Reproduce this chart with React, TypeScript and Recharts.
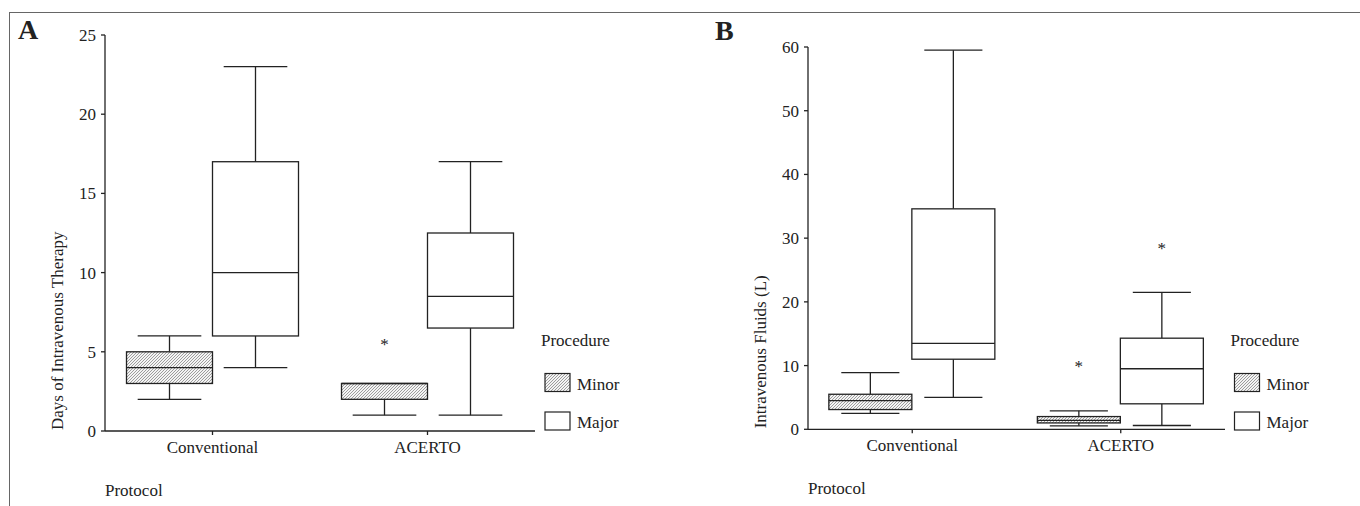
import React from "react";
import { Bar, ComposedChart, Label, Legend, XAxis, YAxis } from "recharts";

// five-number summaries per protocol: [min, q1, median, q3, max]
const protocols = ["Conventional", "ACERTO"];

const daysMinor = [
  [2, 3, 4, 5, 6],
  [1, 2, 3, 3, 3],
];
const daysMinorOutliers = [[], [5.6]];
const daysMajor = [
  [4, 6, 10, 17, 23],
  [1, 6.5, 8.5, 12.5, 17],
];
const daysMajorOutliers = [[], []];
const daysTicks = [0, 5, 10, 15, 20, 25];

const fluidsMinor = [
  [2.5, 3.1, 4.5, 5.5, 8.9],
  [0.55, 1, 1.4, 2, 2.9],
];
const fluidsMinorOutliers = [[], [10.3]];
const fluidsMajor = [
  [5, 11, 13.5, 34.6, 59.5],
  [0.6, 4, 9.5, 14.3, 21.5],
];
const fluidsMajorOutliers = [[], [28.7]];
const fluidsTicks = [0, 10, 20, 30, 40, 50, 60];

const FONT = '"Liberation Serif", "Times New Roman", serif';
const INK = "#222";

interface BoxStats {
  min: number;
  q1: number;
  median: number;
  q3: number;
  max: number;
  outliers: number[];
}

interface Row {
  protocol: string;
  minor: BoxStats;
  major: BoxStats;
}

function toStats(v: number[], outliers: number[]): BoxStats {
  return { min: v[0], q1: v[1], median: v[2], q3: v[3], max: v[4], outliers };
}

function buildRows(minor: number[][], minorOut: number[][], major: number[][], majorOut: number[][]): Row[] {
  return protocols.map((protocol, i) => ({
    protocol,
    minor: toStats(minor[i], minorOut[i]),
    major: toStats(major[i], majorOut[i]),
  }));
}

const daysRows = buildRows(daysMinor, daysMinorOutliers, daysMajor, daysMajorOutliers);
const fluidsRows = buildRows(fluidsMinor, fluidsMinorOutliers, fluidsMajor, fluidsMajorOutliers);

// the bar spans [min, max]; the rest of the box is placed on the same scale
function boxShape(key: "minor" | "major", capRatio: number) {
  return (props: any) => {
    const { x, y, width, height, payload } = props;
    const s: BoxStats = payload[key];
    const top = Math.min(y, y + height);
    const k = Math.abs(height) / (s.max - s.min);
    const py = (v: number) => top + (s.max - v) * k;
    const cx = x + width / 2;
    const half = (width * capRatio) / 2;
    const fill = key === "minor" ? "url(#hatch)" : "#fff";
    return (
      <g stroke={INK} strokeWidth={1.3}>
        <line x1={cx} x2={cx} y1={py(s.max)} y2={py(s.q3)} />
        <line x1={cx} x2={cx} y1={py(s.q1)} y2={py(s.min)} />
        {s.max > s.q3 && <line x1={cx - half} x2={cx + half} y1={py(s.max)} y2={py(s.max)} />}
        <line x1={cx - half} x2={cx + half} y1={py(s.min)} y2={py(s.min)} />
        <rect x={x} y={py(s.q3)} width={width} height={py(s.q1) - py(s.q3)} fill={fill} />
        <line x1={x} x2={x + width} y1={py(s.median)} y2={py(s.median)} />
        {s.outliers.map((o, i) => (
          <text key={i} x={cx} y={py(o) + 8} textAnchor="middle" stroke="none" fill={INK} fontSize={17}>
            *
          </text>
        ))}
      </g>
    );
  };
}

function ProcedureLegend({ dx, dy }: { dx: number; dy: number }) {
  return (
    <svg width={130} height={120} style={{ fontFamily: FONT, overflow: "visible" }}>
      <text x={dx} y={26 + dy} fontSize={17} fill={INK}>
        Procedure
      </text>
      <rect x={dx + 4} y={53.5 + dy} width={25} height={18} fill="url(#hatch)" stroke={INK} strokeWidth={1.2} />
      <text x={dx + 36} y={70 + dy} fontSize={17} fill={INK}>
        Minor
      </text>
      <rect x={dx + 4} y={92 + dy} width={25} height={18} fill="#fff" stroke={INK} strokeWidth={1.2} />
      <text x={dx + 36} y={108 + dy} fontSize={17} fill={INK}>
        Major
      </text>
    </svg>
  );
}

interface PanelProps {
  rows: Row[];
  ticks: number[];
  yLabel: string;
  left: number;
  width: number;
  margin: { top: number; right: number; bottom: number; left: number };
  capRatio: number;
  legendLeft: number;
  legendDx: number;
}

function Panel(p: PanelProps) {
  const axisStyle = { fill: INK, fontSize: 17, fontFamily: FONT };
  return (
    <div style={{ position: "absolute", left: p.left, top: 0 }}>
      <ComposedChart
        width={p.width}
        height={506}
        data={p.rows}
        margin={p.margin}
        barCategoryGap="10%"
        barGap={0}
      >
        <XAxis
          dataKey="protocol"
          tick={axisStyle}
          tickSize={4}
          tickMargin={6}
          height={30}
          stroke={INK}
          strokeWidth={1.3}
          interval={0}
        >
          <Label
            content={(props: any) => {
              const vb = props.viewBox;
              return (
                <text x={vb.x} y={vb.y + 65} fontSize={17} fill={INK} fontFamily={FONT}>
                  Protocol
                </text>
              );
            }}
          />
        </XAxis>
        <YAxis
          type="number"
          domain={[p.ticks[0], p.ticks[p.ticks.length - 1]]}
          ticks={p.ticks}
          tick={axisStyle}
          tickSize={4}
          tickMargin={5}
          width={60}
          stroke={INK}
          strokeWidth={1.3}
          interval={0}
        >
          <Label
            content={(props: any) => {
              const vb = props.viewBox;
              const lx = vb.x + vb.width - 42;
              const ly = vb.y + vb.height - 1;
              return (
                <text
                  x={lx}
                  y={ly}
                  transform={`rotate(-90, ${lx}, ${ly})`}
                  fontSize={17}
                  fill={INK}
                  fontFamily={FONT}
                  textAnchor="start"
                >
                  {p.yLabel}
                </text>
              );
            }}
          />
        </YAxis>
        <Legend
          layout="vertical"
          align="center"
          verticalAlign="middle"
          wrapperStyle={{ left: p.legendLeft, top: 320, width: 130, height: 120 }}
          content={() => <ProcedureLegend dx={p.legendDx} dy={0} />}
        />
        <Bar
          dataKey={(d: Row) => [d.minor.min, d.minor.max]}
          name="Minor"
          shape={boxShape("minor", p.capRatio)}
          isAnimationActive={false}
        />
        <Bar
          dataKey={(d: Row) => [d.major.min, d.major.max]}
          name="Major"
          shape={boxShape("major", p.capRatio)}
          isAnimationActive={false}
        />
      </ComposedChart>
    </div>
  );
}

export default function App() {
  return (
    <div
      style={{
        position: "absolute",
        left: 0,
        top: 0,
        width: 1360,
        height: 506,
        background: "#fff",
        overflow: "hidden",
        fontFamily: FONT,
        color: INK,
      }}
    >
      <svg width={0} height={0} style={{ position: "absolute" }}>
        <defs>
          <pattern id="hatch" width={3} height={3} patternUnits="userSpaceOnUse">
            <rect width={3} height={3} fill="#f4f4f4" />
            <path d="M-1,1 l2,-2 M0,3 l3,-3 M2,4 l2,-2" stroke="#777" strokeWidth={0.7} />
          </pattern>
        </defs>
      </svg>
      <div
        style={{
          position: "absolute",
          left: 9,
          top: 12,
          width: 1400,
          height: 600,
          borderTop: "1.5px solid #666",
          borderLeft: "1.5px solid #666",
        }}
      />
      <Panel
        rows={daysRows}
        ticks={daysTicks}
        yLabel="Days of Intravenous Therapy"
        left={0}
        width={700}
        margin={{ top: 35, right: 165, bottom: 45, left: 45 }}
        capRatio={0.74}
        legendLeft={535}
        legendDx={6}
      />
      <Panel
        rows={fluidsRows}
        ticks={fluidsTicks}
        yLabel="Intravenous Fluids (L)"
        left={680}
        width={680}
        margin={{ top: 47, right: 135, bottom: 46.7, left: 68 }}
        capRatio={0.7}
        legendLeft={545}
        legendDx={5.5}
      />
      <div style={{ position: "absolute", left: 18, top: 14, fontSize: 28, fontWeight: "bold" }}>A</div>
      <div style={{ position: "absolute", left: 715, top: 15, fontSize: 28, fontWeight: "bold" }}>B</div>
    </div>
  );
}
